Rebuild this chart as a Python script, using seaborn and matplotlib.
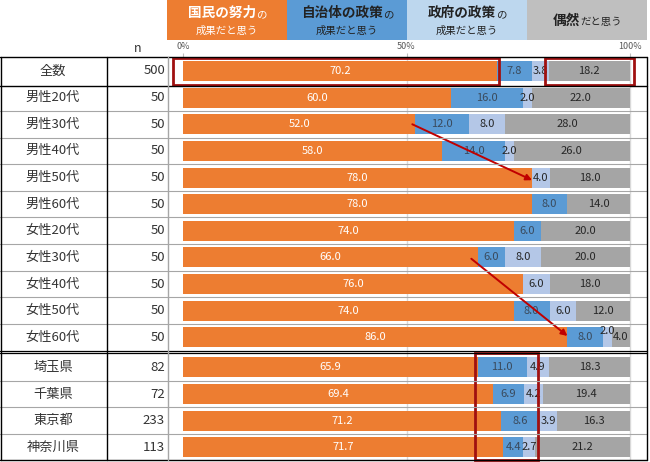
import numpy as np
import matplotlib
matplotlib.use("Agg")
import matplotlib.pyplot as plt
import seaborn as sns
from matplotlib.lines import Line2D
from matplotlib.patches import Rectangle, FancyArrowPatch
from matplotlib.transforms import blended_transform_factory

labels = ["全数", "男性20代", "男性30代", "男性40代", "男性50代", "男性60代",
          "女性20代", "女性30代", "女性40代", "女性50代", "女性60代",
          "埼玉県", "千葉県", "東京都", "神奈川県"]
n_counts = [500, 50, 50, 50, 50, 50, 50, 50, 50, 50, 50, 82, 72, 233, 113]
kokumin = [70.2, 60.0, 52.0, 58.0, 78.0, 78.0, 74.0, 66.0, 76.0, 74.0, 86.0, 65.9, 69.4, 71.2, 71.7]
jichitai = [7.8, 16.0, 12.0, 14.0, 0.0, 8.0, 6.0, 6.0, 0.0, 8.0, 8.0, 11.0, 6.9, 8.6, 4.4]
seifu = [3.8, 2.0, 8.0, 2.0, 4.0, 0.0, 0.0, 8.0, 6.0, 6.0, 2.0, 4.9, 4.2, 3.9, 2.7]
guzen = [18.2, 22.0, 28.0, 26.0, 18.0, 14.0, 20.0, 20.0, 18.0, 12.0, 4.0, 18.3, 19.4, 16.3, 21.2]

colors = ["#ED7D31", "#5B9BD5", "#B4C7E7", "#A5A5A5"]
text_colors = ["white", "#3A4A5C", "#262626", "#262626"]

sns.set_style("white")
plt.rcParams["font.family"] = ["Noto Sans CJK JP", "DejaVu Sans"]

W, H = 650, 462
fig = plt.figure(figsize=(W / 100, H / 100), dpi=100)

# chart area in pixel terms
x0_px, x100_px = 183, 630
ppu = (x100_px - x0_px) / 100
ax_left, ax_right, ax_top, ax_bot = 168, 647, 57, 460
ax = fig.add_axes([ax_left / W, 1 - ax_bot / H, (ax_right - ax_left) / W, (ax_bot - ax_top) / H])

idx = np.arange(len(labels))
pos = idx + np.where(idx >= 11, 0.13, 0.0)
row_px = 26.63
first_px = 71

series = [kokumin, jichitai, seifu, guzen]
cum = np.cumsum(np.array(series), axis=0)

# stacked bars: draw from the widest cumulative to the narrowest
for k in range(3, -1, -1):
    sns.barplot(x=cum[k], y=pos, orient="h", native_scale=True, color=colors[k],
                width=0.75, linewidth=0, errorbar=None, saturation=1, ax=ax, zorder=2)

ax.set_xlim((ax_left - x0_px) / ppu, (ax_right - x0_px) / ppu)
ax.set_ylim(pos[-1] + (ax_bot - (first_px + pos[-1] * row_px)) / row_px, -(first_px - ax_top) / row_px)
for s in ax.spines.values():
    s.set_visible(False)
ax.set_yticks([])
ax.set_ylabel("")
ax.set_xlabel("")
ax.xaxis.tick_top()
ax.set_xticks([0, 50, 100])
ax.set_xticklabels(["0%", "50%", "100%"])
ax.tick_params(axis="x", length=3, color="#BFBFBF", labelsize=6.5, labelcolor="#595959", pad=1)
for g in [50, 100]:
    ax.axvline(g, color="#D9D9D9", lw=1, zorder=0)

# segment labels
for i in range(len(labels)):
    left = 0
    for k in range(4):
        v = series[k][i]
        if v > 0:
            dy = 0
            if labels[i] == "女性60代" and k == 2:
                dy = -0.22
            ax.text(left + v / 2, pos[i] + dy, f"{v:.1f}", ha="center", va="center",
                    fontsize=8, color=text_colors[k], zorder=4)
        left += v

# table grid
tr = blended_transform_factory(fig.transFigure, ax.transData)
ytop = ax.get_ylim()[1]
ybot = ax.get_ylim()[0]
for y, c in [(ytop, "black"), (ybot, "black")]:
    fig.add_artist(Line2D([0, ax_right / W], [y, y], transform=tr, color=c, lw=1))
for i in range(len(labels) - 1):
    y = (pos[i] + pos[i + 1]) / 2
    if i == 0:
        fig.add_artist(Line2D([0, ax_right / W], [y + 0.08, y + 0.08], transform=tr, color="black", lw=1))
    elif i == 10:
        for d in (-0.04, 0.04):
            fig.add_artist(Line2D([0, ax_right / W], [y + d, y + d], transform=tr, color="black", lw=0.9))
    else:
        fig.add_artist(Line2D([0, ax_right / W], [y, y], transform=tr, color="#A6A6A6", lw=0.8))

for xp, c in [(0.5, "black"), (107, "black"), (168, "#A6A6A6"), (ax_right, "black")]:
    fig.add_artist(Line2D([xp / W, xp / W], [1 - ax_top / H, 1 - ax_bot / H],
                          transform=fig.transFigure, color=c, lw=1))

# row labels and n
for i in range(len(labels)):
    fig.text(53 / W, 0, labels[i], transform=tr, ha="center", va="center", fontsize=9.5, color="#333333") \
        .set_position((53 / W, pos[i]))
    fig.text(165 / W, 0, str(n_counts[i]), transform=tr, ha="right", va="center", fontsize=9.5,
             color="#333333").set_position((165 / W, pos[i]))
fig.text(138 / W, 1 - 48 / H, "n", ha="center", va="center", fontsize=9, color="#333333")

# header legend boxes
renderer = fig.canvas.get_renderer()


def rich_line(parts, cx, base_px, color):
    texts = []
    for s, size, weight in parts:
        t = fig.text(0, 1 - base_px / H, s, fontsize=size, fontweight=weight, color=color,
                     ha="left", va="baseline")
        texts.append(t)
    widths = [t.get_window_extent(renderer).width for t in texts]
    x = cx - sum(widths) / 2
    for t, w in zip(texts, widths):
        t.set_x(x / W)
        x += w


boxes = [
    (167, colors[0], "white", [("国民の努力", 9.8, "bold"), ("の", 7.5, "normal")], "成果だと思う"),
    (287, colors[1], "#222222", [("自治体の政策", 9.8, "bold"), ("の", 7.5, "normal")], "成果だと思う"),
    (407, "#BDD7EE", "#222222", [("政府の政策", 9.8, "bold"), ("の", 7.5, "normal")], "成果だと思う"),
    (527, "#BFBFBF", "#222222", [("偶然", 9.8, "bold"), ("だと思う", 7.5, "normal")], None),
]
for bx, bc, tc, line1, line2 in boxes:
    fig.add_artist(Rectangle((bx / W, 1 - 40 / H), 120 / W, 40 / H, transform=fig.transFigure,
                             facecolor=bc, edgecolor="none"))
    if line2 is None:
        rich_line(line1, bx + 60, 25, tc)
    else:
        rich_line(line1, bx + 60, 17, tc)
        fig.text((bx + 60) / W, 1 - 34 / H, line2, fontsize=7.5, color=tc, ha="center", va="baseline")

# red highlight boxes and arrows
red_box = "#A01010"
for (xa, xb, ya, yb) in [(-2.2, 70.7, -0.49, 0.53), (81.0, 101.0, -0.49, 0.53), (65.4, 79.5, 10.6, 14.62)]:
    ax.add_patch(Rectangle((xa, ya), xb - xa, yb - ya, fill=False, edgecolor=red_box, lw=2,
                           zorder=5, clip_on=False))
for (xa, ya, xb, yb) in [(51.3, 2.0, 78.1, 4.1), (64.5, 7.05, 86.0, 9.95)]:
    ax.add_patch(FancyArrowPatch((xa, ya), (xb, yb), arrowstyle="-|>", mutation_scale=9,
                                 color="#C00000", lw=1.4, zorder=6, shrinkA=0, shrinkB=0))

fig.savefig("out.png", dpi=100)
